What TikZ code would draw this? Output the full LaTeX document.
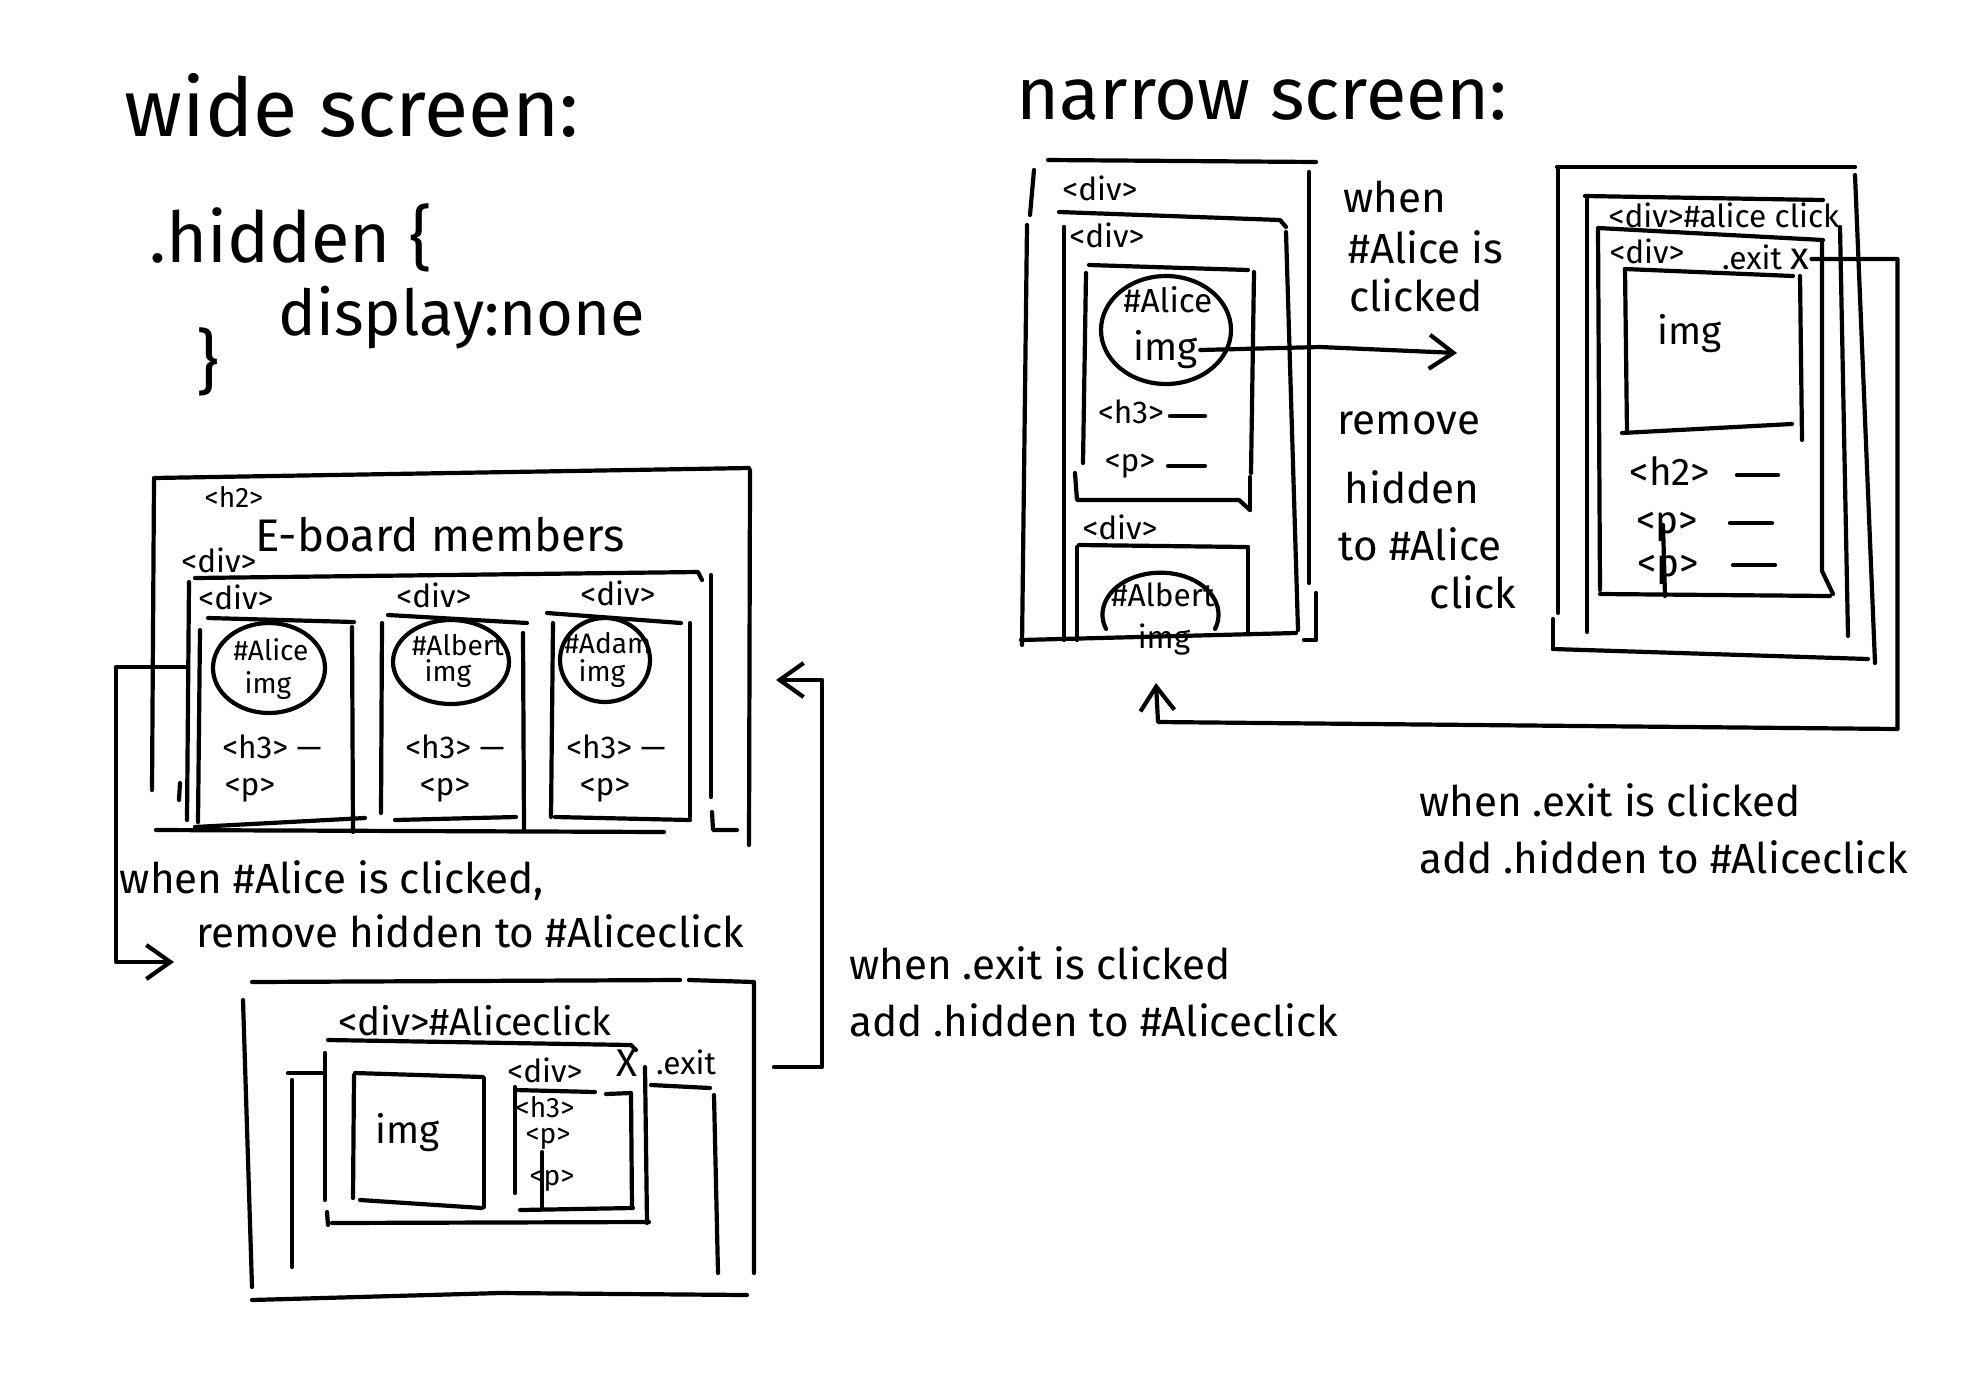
\documentclass[tikz,border=0pt]{standalone}
\usepackage{fontspec}
\setmainfont{Fira Sans}
\usetikzlibrary{arrows.meta, positioning, calc}

\begin{document}
\begin{tikzpicture}[x=0.1mm, y=-0.1mm, line width=0.42mm, line cap=round, line join=round,
  titletxt/.style={font=\fontsize{23}{27}\selectfont, inner sep=0pt},
  codetxt/.style={font=\fontsize{20}{24}\selectfont, inner sep=0pt},
  notetxt/.style={font=\fontsize{12}{14}\selectfont, inner sep=0pt},
  tagtxt/.style={font=\fontsize{9}{10}\selectfont, inner sep=0pt},
  circtxt/.style={font=\fontsize{8}{9}\selectfont, inner sep=0pt},
  imgtxt/.style={font=\fontsize{11}{12}\selectfont, inner sep=0pt},
  hand/.style={-{Straight Barb[length=2.4mm, width=3.4mm]}}]
  \useasboundingbox (0,0) rectangle (1984,1381);

  % wide screen notes
  \node[titletxt] (wide) at (352,105) {wide screen:};
  \node[codetxt] (hidden) at (291,238) {.hidden \{};
  \node[codetxt, font=\fontsize{18}{22}\selectfont] (display) at (462,318) {display:none};
  \node[codetxt] (brace) at (208,362) {\}};

  % wide screen page
  \draw (154,478) -- (749,468);
  \draw (154,480) -- (152,790);
  \draw (750,470) -- (749,845);
  \draw (156,830) -- (664,832);
  \node[circtxt] (h2tag) at (234,497) {<h2>};
  \node[font=\fontsize{13}{15}\selectfont, inner sep=0pt] (eboard) at (440,535) {E-board members};
  \node[tagtxt] (rowtag) at (219,560) {<div>};
  \draw (195,578) -- (698,572) -- (702,580);
  \draw (189,582) -- (187,820);
  \draw (180,783) -- (179,800);
  \draw (711,575) -- (711,797);
  \draw (712,812) -- (713,830) -- (737,830);

  % card Alice
  \node[tagtxt] (div1) at (236,597) {<div>};
  \draw (208,618) -- (354,622);
  \draw (200,630) -- (198,822);
  \draw (352,627) -- (353,832);
  \draw (195,827) -- (365,818);
  \draw (269,668) ellipse [x radius=5.6mm, y radius=4.5mm];
  \node[circtxt] (alice) at (271,650) {\#Alice};
  \node[circtxt] (img1) at (268,686) {img};
  \node[tagtxt] (h31) at (272,747) {<h3> ---};
  \node[tagtxt] (p1) at (250,790) {<p>};

  % card Albert
  \node[tagtxt] (div2) at (434,595) {<div>};
  \draw (388,615) -- (527,623);
  \draw (382,623) -- (381,813);
  \draw (523,633) -- (524,830);
  \draw (395,820) -- (516,817);
  \draw (451,662) ellipse [x radius=5.8mm, y radius=4.2mm];
  \node[circtxt] (albert) at (458,645) {\#Albert};
  \node[circtxt] (img2) at (448,674) {img};
  \node[tagtxt] (h32) at (455,747) {<h3> ---};
  \node[tagtxt] (p2) at (445,790) {<p>};

  % card Adam
  \node[tagtxt] (div3) at (618,593) {<div>};
  \draw (547,613) -- (681,623);
  \draw (553,623) -- (551,817);
  \draw (690,623) -- (690,817);
  \draw (555,817) -- (690,820);
  \draw (605,660) ellipse [x radius=4.5mm, y radius=4.2mm];
  \node[circtxt] (adam) at (608,643) {\#Adam};
  \node[circtxt] (img3) at (602,674) {img};
  \node[tagtxt] (h33) at (616,747) {<h3> ---};
  \node[tagtxt] (p3) at (605,790) {<p>};

  % open #Aliceclick
  \coordinate (aliceL) at (187,667);
  \coordinate (clickIn) at (174,962);
  \draw[hand] (aliceL) -- ++(-71,0) |- (clickIn);
  \node[notetxt] (whenalice) at (332,881) {when \#Alice is clicked,};
  \node[notetxt] (removehid) at (470,931) {remove hidden to \#Aliceclick};

  % #Aliceclick overlay
  \draw (252,982) -- (680,980);
  \draw (689,980) -- (754,982) -- (754,1273);
  \draw (243,1000) -- (252,1287);
  \draw (252,1300) -- (500,1293) -- (747,1295);
  \draw (288,1073) -- (323,1073);
  \draw (292,1080) -- (292,1267);
  \draw (651,1085) -- (710,1088);
  \draw (714,1095) -- (718,1273);
  \node[imgtxt] (aliceclick) at (475,1021) {<div>\#Aliceclick};
  \draw (328,1040) -- (631,1045) -- (636,1050);
  \draw (325,1053) -- (325,1200);
  \draw (327,1212) -- (328,1225);
  \draw (332,1223) -- (649,1222);
  \draw (645,1067) -- (647,1223);
  \draw (355,1073) -- (483,1077);
  \draw (354,1075) -- (353,1198);
  \draw (484,1078) -- (484,1207);
  \draw (360,1200) -- (482,1208);
  \node[imgtxt] (imgA) at (408,1133) {img};
  \node[tagtxt] (infodiv) at (545,1070) {<div>};
  \draw (515,1087) -- (515,1193);
  \draw (515,1090) -- (595,1092);
  \draw (606,1094) -- (631,1093) -- (632,1208);
  \draw (520,1210) -- (633,1208);
  \node[circtxt] (h3A) at (545,1107) {<h3>};
  \node[circtxt] (pA1) at (548,1139) {<p>};
  \node[circtxt] (pA2) at (552,1181) {<p>};
  \draw (542,1152) -- (542,1207);
  \node[imgtxt] (exitX) at (627,1063) {X};
  \node[tagtxt] (exitA) at (686,1062) {.exit};

  % close #Aliceclick
  \coordinate (exitOut) at (774,1067);
  \coordinate (wideIn) at (776,680);
  \draw[hand] (exitOut) -- ++(48,0) |- (wideIn);
  \node[notetxt, anchor=west] (exitnote1) at (847,963) {when .exit is clicked};
  \node[notetxt, anchor=west] (exitnote2) at (847,1020) {add .hidden to \#Aliceclick};

  % narrow screen
  \node[titletxt, font=\fontsize{21}{25}\selectfont] (narrow) at (1262,100) {narrow screen:};

  % narrow page
  \draw (1048,160) -- (1316,162);
  \draw (1034,170) -- (1030,215);
  \draw (1027,225) -- (1022,645);
  \draw (1309,172) -- (1309,583);
  \draw (1304,640) -- (1316,640) -- (1316,593);
  \draw (1021,640) -- (1296,633);
  \node[tagtxt] (ndiv) at (1100,188) {<div>};
  \draw (1059,212) -- (1280,220) -- (1286,227);
  \draw (1064,227) -- (1064,640);
  \draw (1286,232) -- (1298,630);
  \node[tagtxt] (ndiv2) at (1107,235) {<div>};
  \draw (1089,265) -- (1248,270);
  \draw (1086,273) -- (1083,463);
  \draw (1075,473) -- (1077,500) -- (1239,500) -- (1250,510);
  \draw (1254,272) -- (1251,473);
  \draw (1250,477) -- (1250,510);
  \draw (1166,330) ellipse [x radius=6.5mm, y radius=5.4mm];
  \node[font=\fontsize{9.5}{10}\selectfont, inner sep=0pt] (nalice) at (1168,300) {\#Alice};
  \node[imgtxt] (nimg) at (1166,350) {img};
  \node[tagtxt] (nh3) at (1131,412) {<h3>};
  \draw (1170,416) -- (1205,416);
  \node[tagtxt] (np) at (1130,466) {<p>};
  \draw (1168,466) -- (1205,466);
  \node[tagtxt] (ndiv3) at (1120,527) {<div>};
  \draw (1079,545) -- (1246,547);
  \draw (1077,547) -- (1077,640);
  \draw (1248,547) -- (1248,633);
  \draw (1106,629) arc[start angle=200, end angle=-20, x radius=5.8mm, y radius=4.2mm];
  \node[font=\fontsize{9}{10}\selectfont, inner sep=0pt] (nalbert) at (1163,595) {\#Albert};
  \node[tagtxt] (nimg2) at (1164,640) {img};

  % open on narrow
  \coordinate (nTip) at (1457,353);
  \draw[hand] (nimg.east) -- (1320,347) -- (nTip);
  \node[notetxt] (nwhen) at (1395,197) {when};
  \node[notetxt] (nis) at (1426,247) {\#Alice is};
  \node[notetxt] (nclicked) at (1416,295) {clicked};
  \node[notetxt] (nremove) at (1409,423) {remove};
  \node[notetxt] (nhidden) at (1412,487) {hidden};
  \node[notetxt] (nto) at (1420,544) {to \#Alice};
  \node[notetxt] (nclick) at (1473,592) {click};

  % narrow #aliceclick
  \draw (1557,167) -- (1855,167);
  \draw (1558,167) -- (1558,613);
  \draw (1553,619) -- (1553,649);
  \draw (1553,649) -- (1868,659);
  \draw (1855,175) -- (1875,663);
  \draw (1585,196) -- (1823,200);
  \draw (1587,196) -- (1587,632);
  \draw (1840,227) -- (1848,636);
  \node[tagtxt] (rclick) at (1724,215) {<div>\#alice click};
  \draw (1598,228) -- (1823,240);
  \draw (1598,230) -- (1600,590);
  \draw (1822,240) -- (1822,571) -- (1833,594);
  \draw (1600,594) -- (1830,596);
  \node[tagtxt] (rdiv) at (1647,251) {<div>};
  \node[tagtxt] (rexit) at (1752,257) {.exit};
  \node[imgtxt] (rx) at (1800,259) {x};
  \draw (1625,269) -- (1793,276);
  \draw (1625,269) -- (1627,433);
  \draw (1800,276) -- (1802,440);
  \draw (1622,433) -- (1792,424);
  \node[imgtxt] (rimg) at (1690,334) {img};
  \node[imgtxt] (rh2) at (1670,471) {<h2>};
  \draw (1737,475) -- (1778,475);
  \node[imgtxt] (rp1) at (1667,527) {<p>};
  \draw (1730,523) -- (1772,523);
  \node[imgtxt] (rp2) at (1668,570) {<p>};
  \draw (1733,565) -- (1775,565);
  \draw (1663,525) -- (1665,596);

  % close on narrow
  \coordinate (upTip) at (1156,683);
  \draw[hand] (rx.east) -- ++(86,0) -- ++(0,470) -- (1158,722) -- (upTip);
  \node[notetxt, anchor=west] (rnote1) at (1417,800) {when .exit is clicked};
  \node[notetxt, anchor=west] (rnote2) at (1417,857) {add .hidden to \#Aliceclick};
\end{tikzpicture}
\end{document}
